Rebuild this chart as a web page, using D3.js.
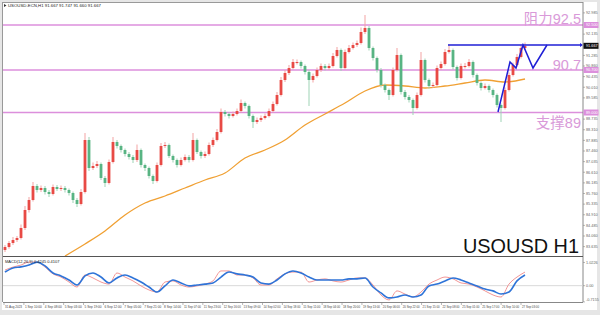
<!DOCTYPE html>
<html><head><meta charset="utf-8">
<script src="https://cdn.jsdelivr.net/npm/d3@7"></script>
<style>body{margin:0;background:#fff}svg{display:block}</style>
</head><body><svg id="c" width="600" height="315"></svg>
<script>
// ---------- DATA ----------
const firstOpen = 83.50;
const closes = [83.62,83.78,83.90,83.98,84.38,85.10,85.50,86.06,85.90,85.98,
85.82,85.74,86.02,85.94,85.98,85.90,85.78,85.50,85.34,85.82,
87.90,86.78,86.86,86.94,86.38,86.18,87.02,87.82,87.66,87.50,
87.34,87.22,87.10,87.50,86.90,86.78,86.46,86.26,86.90,87.66,
87.70,87.26,87.10,86.90,87.10,87.22,87.10,87.90,87.42,87.26,
87.34,87.70,87.90,88.22,89.02,88.94,88.86,88.94,89.06,89.38,
89.26,88.86,88.62,88.70,88.78,88.86,89.06,89.34,89.70,90.30,
90.58,90.78,91.02,91.02,90.86,90.62,90.30,90.46,90.70,90.86,
90.78,90.86,91.26,91.50,90.78,91.42,91.58,91.70,91.78,92.22,
92.38,91.58,91.18,90.70,90.10,89.90,89.70,90.70,91.30,89.82,
89.62,89.50,89.18,89.70,91.10,90.30,90.06,90.10,90.78,90.94,
91.42,91.50,90.82,90.38,90.86,90.86,91.02,90.50,90.18,89.98,
90.06,89.90,89.70,89.30,89.18,89.90,90.50,90.90,91.22,91.58,91.66];
const highs = [83.70,83.86,84.02,84.06,84.52,85.26,85.62,86.22,86.14,86.08,
86.06,85.90,86.12,86.10,86.08,86.06,85.96,85.84,85.58,85.94,
88.18,88.02,87.00,87.06,87.00,86.46,87.12,88.02,87.90,87.72,
87.56,87.42,87.30,87.72,87.56,86.96,86.84,86.52,87.00,87.78,
87.82,87.76,87.32,87.16,87.20,87.32,87.30,88.18,87.96,87.48,
87.44,87.80,88.00,88.34,89.16,89.10,89.00,89.04,89.16,89.52,
89.44,89.32,88.92,88.80,88.88,88.96,89.16,89.44,89.82,90.42,
90.70,90.90,91.14,91.12,91.08,90.92,90.70,90.56,90.80,90.96,
90.94,90.96,91.38,91.62,91.56,91.52,91.70,91.80,91.88,92.40,
92.90,92.46,91.64,91.24,90.78,90.16,89.96,90.80,91.58,91.36,
89.90,89.70,89.56,89.80,91.42,91.16,90.36,90.20,90.88,91.04,
91.54,91.72,91.56,90.88,90.96,90.98,91.14,91.08,90.56,90.24,
90.16,90.12,89.96,89.76,89.36,90.00,90.60,91.00,91.34,91.72,91.80];
const lows = [83.42,83.55,83.70,83.82,83.92,84.30,85.00,85.44,85.80,85.82,
85.72,85.62,85.68,85.86,85.86,85.80,85.68,85.38,85.22,85.28,
85.76,86.66,86.70,86.78,86.30,86.02,86.12,86.96,87.56,87.40,
87.24,87.12,86.98,87.02,86.80,86.66,86.36,86.14,86.20,86.84,
87.58,87.18,87.00,86.80,86.84,87.04,87.00,87.04,87.34,87.16,
87.18,87.28,87.62,87.84,88.16,88.84,88.76,88.80,88.88,89.00,
89.16,88.76,88.38,88.54,88.62,88.72,88.80,89.00,89.28,89.64,
90.22,90.50,90.72,90.92,90.76,90.52,89.26,90.20,90.40,90.62,
90.68,90.70,90.80,91.20,90.66,90.72,91.36,91.52,91.62,91.72,
92.14,91.48,91.08,90.60,90.00,89.80,89.50,89.64,90.64,89.72,
89.52,89.40,88.90,89.12,89.64,90.20,89.96,89.98,90.04,90.70,
90.88,91.36,90.72,90.28,90.32,90.76,90.80,90.40,90.08,89.88,
89.92,89.80,89.60,89.20,88.62,89.12,89.84,90.44,90.84,91.16,91.50];
const maIndex  = [15,20,25,30,35,40,45,50,55,60,65,70,75,80,85,90,95,100,105,110,115,120,125,130];
const maValues = [83.26,83.74,84.26,84.90,85.38,85.66,85.98,86.30,86.58,87.18,87.50,87.90,88.50,88.94,89.38,89.86,90.10,90.06,89.98,90.06,90.18,90.30,90.22,90.34];
const macdMain = [0.60,0.78,0.83,0.91,1.04,0.87,0.56,0.43,0.25,0.03,
0.43,0.56,0.38,0.12,0.34,0.47,0.34,0.16,-0.06,-0.28,
-0.01,0.25,0.12,-0.01,0.03,0.07,0.12,0.38,0.60,0.52,
0.47,0.38,0.12,0.07,0.25,0.52,0.65,0.56,0.38,0.25,
0.25,0.25,0.25,0.30,0.30,0.34,-0.06,-0.32,-0.54,-0.50,
-0.41,-0.50,-0.41,-0.01,0.07,0.21,0.34,0.25,0.12,-0.01,
-0.15,-0.23,-0.37,-0.28,0.21,0.47];
const macdSignal = [0.69,0.82,0.91,1.04,1.04,0.82,0.52,0.38,0.16,-0.06,
0.47,0.34,0.16,0.07,0.56,0.38,0.21,-0.01,-0.19,-0.28,
0.16,0.21,0.03,-0.06,-0.01,0.07,0.21,0.65,0.65,0.47,
0.47,0.34,0.03,0.03,0.30,0.52,0.60,0.60,0.16,0.25,
0.30,0.21,0.16,0.25,0.34,0.34,0.03,-0.41,-0.63,-0.23,
-0.37,-0.50,-0.28,0.07,0.25,0.38,0.30,0.12,0.07,-0.06,
-0.23,-0.41,-0.50,0.07,0.38,0.60];
const dateLabels = ["31 Aug 2023","1 Sep 10:00","4 Sep 08:00","5 Sep 03:00","5 Sep 19:00","6 Sep 12:00","7 Sep 05:00","7 Sep 21:00","8 Sep 14:00","11 Sep 07:00","11 Sep 23:00","12 Sep 16:00","13 Sep 09:00","14 Sep 02:00","14 Sep 18:00","15 Sep 11:00","18 Sep 04:00","18 Sep 20:00","19 Sep 13:00","20 Sep 06:00","20 Sep 22:00","21 Sep 15:00","22 Sep 08:00","25 Sep 01:00","25 Sep 17:00","26 Sep 10:00","27 Sep 03:00"];
const priceTicks = [92.985,92.135,91.285,90.860,90.435,90.010,89.585,88.735,88.310,87.885,87.460,87.035,86.610,86.185,85.760,85.335,84.910,84.485,84.060,83.635];
const levels = [92.5, 90.7, 89.0];
const levelLabels = ["阻力92.5","90.7","支撑89"];
const levelTags = ["92.500","90.700","89.000"];
const currentPrice = 91.667;
const headerText = "USOUSD-ECN,H1  91.667 91.747 91.660 91.667";
const macdHeader = "MACD(12,26,9) 0.4245 0.4107";
const macdTicks = [1.0226, 0, -0.7155];
const macdTickLabels = ["1.0226","0.00","-0.7155"];
const projIndex = [123.25,126.25,127.75,129.5,132,135.5];
const projPrice = [89.02,91.02,90.78,91.70,90.78,91.70];
const resistIndex = [110.75, 143.75];
const resistPrice = 91.70;
const chartTitle = "USOUSD H1";

// ---------- LAYOUT ----------
const svg = d3.select("#c");
const L = 3, R = 583, T = 3, MB = 256, ST = 257, SB = 302;
const x = d3.scaleLinear().domain([0,130]).range([5,525]);
const y = d3.scaleLinear().domain([83.26,93.38]).range([MB,T]);
const my = d3.scaleLinear().domain([-0.72,1.22]).range([SB,258]);
const xd = d3.scalePoint().domain(dateLabels).range([4,521]);
const sans = "'Liberation Sans',Arial,sans-serif";

svg.append("rect").attr("x",0).attr("y",0).attr("width",600).attr("height",315).attr("fill","#e6e6e6");
svg.append("rect").attr("x",2).attr("y",2).attr("width",595).attr("height",308).attr("fill","#fff");

const defs = svg.append("defs");
defs.append("clipPath").attr("id","mainClip").append("rect").attr("x",L).attr("y",T).attr("width",R-L).attr("height",MB-T);
defs.append("clipPath").attr("id","subClip").append("rect").attr("x",L).attr("y",ST).attr("width",R-L).attr("height",SB-ST);

const main = svg.append("g").attr("clip-path","url(#mainClip)");

levels.forEach(v=>{
  main.append("line").attr("x1",L).attr("x2",R).attr("y1",y(v)).attr("y2",y(v))
    .attr("stroke","#dc8fdc").attr("stroke-width",1.4);
});

const maData = maIndex.map((d,i)=>[d,maValues[i]]);
main.append("path").datum(maData)
  .attr("d",d3.line().x(d=>x(d[0])).y(d=>y(d[1])).curve(d3.curveMonotoneX))
  .attr("fill","none").attr("stroke","#f0a033").attr("stroke-width",1.3);

const candles = closes.map((c,i)=>({i,o:i===0?firstOpen:closes[i-1],c,h:highs[i],l:lows[i]}));
const cg = main.append("g");
cg.selectAll("line.w").data(candles).join("line")
  .attr("x1",d=>x(d.i)).attr("x2",d=>x(d.i))
  .attr("y1",d=>y(d.h)).attr("y2",d=>y(d.l))
  .attr("stroke",d=>d.c>=d.o?"#f3a3a3":"#9ed3b5").attr("stroke-width",1);
cg.selectAll("rect.b").data(candles).join("rect")
  .attr("x",d=>x(d.i)-1.4).attr("width",2.8)
  .attr("y",d=>y(Math.max(d.o,d.c)))
  .attr("height",d=>Math.max(1,Math.abs(y(d.o)-y(d.c))))
  .attr("fill",d=>d.c>=d.o?"#e84a45":"#58b483");

main.append("line").attr("x1",x(resistIndex[0])).attr("x2",x(resistIndex[1]))
  .attr("y1",y(resistPrice)).attr("y2",y(resistPrice)).attr("stroke","#1f1fd6").attr("stroke-width",1.4);
main.append("path").attr("d",`M${x(resistIndex[1])},${y(resistPrice)-2}L${x(resistIndex[1])+3},${y(resistPrice)}L${x(resistIndex[1])},${y(resistPrice)+2}Z`).attr("fill","#1f1fd6");
main.append("path").datum(projIndex.map((d,i)=>[d,projPrice[i]]))
  .attr("d",d3.line().x(d=>x(d[0])).y(d=>y(d[1])))
  .attr("fill","none").attr("stroke","#1f1fd6").attr("stroke-width",1.5);

const cjk = "'Liberation Sans','Noto Sans CJK SC',Arial,sans-serif";
const lblY = [24, 69.5, 127.5];
levelLabels.forEach((t,i)=>{
  svg.append("text").attr("x",581).attr("y",lblY[i]).attr("text-anchor","end")
    .attr("font-family",cjk).attr("font-size",14.5).attr("fill","#d99ad9").text(t);
});
svg.append("text").attr("x",579).attr("y",253).attr("text-anchor","end")
  .attr("font-family",sans).attr("font-size",21).attr("fill","#111")
  .attr("textLength",116).attr("lengthAdjust","spacingAndGlyphs").text(chartTitle);

svg.append("path").attr("d","M4,4L6.5,5.5L4,7Z").attr("fill","#333");
svg.append("text").attr("x",8).attr("y",7).attr("font-family",sans)
  .attr("font-size",4.3).attr("fill","#222").text(headerText);

svg.append("line").attr("x1",L).attr("x2",R).attr("y1",2.5).attr("y2",2.5).attr("stroke","#999").attr("stroke-width",1);
svg.append("line").attr("x1",2.5).attr("x2",2.5).attr("y1",2).attr("y2",SB).attr("stroke","#999").attr("stroke-width",1);
svg.append("line").attr("x1",R).attr("x2",R).attr("y1",2).attr("y2",SB).attr("stroke","#888").attr("stroke-width",1);
svg.append("line").attr("x1",L).attr("x2",R).attr("y1",256.5).attr("y2",256.5).attr("stroke","#555").attr("stroke-width",1.2);
svg.append("line").attr("x1",L).attr("x2",R).attr("y1",SB+0.5).attr("y2",SB+0.5).attr("stroke","#888").attr("stroke-width",1);

const ax = svg.append("g").attr("font-family",sans).attr("font-size",3.8).attr("fill","#666");
priceTicks.forEach(v=>{
  ax.append("line").attr("x1",R).attr("x2",R+2).attr("y1",y(v)).attr("y2",y(v)).attr("stroke","#888").attr("stroke-width",0.6);
  ax.append("text").attr("x",R+3).attr("y",y(v)+1.3).text(v.toFixed(3));
});
levels.forEach((v,i)=>{
  ax.append("rect").attr("x",R+0.5).attr("y",y(v)-3).attr("width",15).attr("height",6).attr("fill","#dc8fdc");
  ax.append("text").attr("x",R+3).attr("y",y(v)+1.3).attr("fill","#fff").text(levelTags[i]);
});
ax.append("rect").attr("x",R+0.5).attr("y",y(currentPrice)-3).attr("width",15).attr("height",6).attr("fill","#111");
ax.append("text").attr("x",R+3).attr("y",y(currentPrice)+1.3).attr("fill","#fff").text(currentPrice.toFixed(3));

const sub = svg.append("g").attr("clip-path","url(#subClip)");
sub.append("line").attr("x1",L).attr("x2",R).attr("y1",my(0)).attr("y2",my(0)).attr("stroke","#cfcfcf").attr("stroke-width",0.8);
sub.append("path").datum(macdSignal)
  .attr("d",d3.line().x((d,i)=>x(i*2)).y(d=>my(d)).curve(d3.curveMonotoneX))
  .attr("fill","none").attr("stroke","#f08a8a").attr("stroke-width",0.9);
sub.append("path").datum(macdMain)
  .attr("d",d3.line().x((d,i)=>x(i*2)).y(d=>my(d)).curve(d3.curveMonotoneX))
  .attr("fill","none").attr("stroke","#2f74d8").attr("stroke-width",1.6);
svg.append("text").attr("x",5).attr("y",263).attr("font-family",sans)
  .attr("font-size",4).attr("fill","#222").text(macdHeader);
macdTicks.forEach((v,i)=>{
  ax.append("line").attr("x1",R).attr("x2",R+2).attr("y1",my(v)).attr("y2",my(v)).attr("stroke","#888").attr("stroke-width",0.6);
  ax.append("text").attr("x",R+3).attr("y",Math.min(Math.max(my(v)+1.3,262),301)).text(macdTickLabels[i]);
});

const da = svg.append("g").attr("font-family",sans).attr("font-size",3.6).attr("fill","#444");
dateLabels.forEach(t=>{
  da.append("line").attr("x1",xd(t)).attr("x2",xd(t)).attr("y1",SB).attr("y2",SB+3).attr("stroke","#888").attr("stroke-width",0.6);
  da.append("text").attr("x",xd(t)+1).attr("y",308)
    .attr("textLength",17).attr("lengthAdjust","spacingAndGlyphs").text(t);
});
</script></body></html>
